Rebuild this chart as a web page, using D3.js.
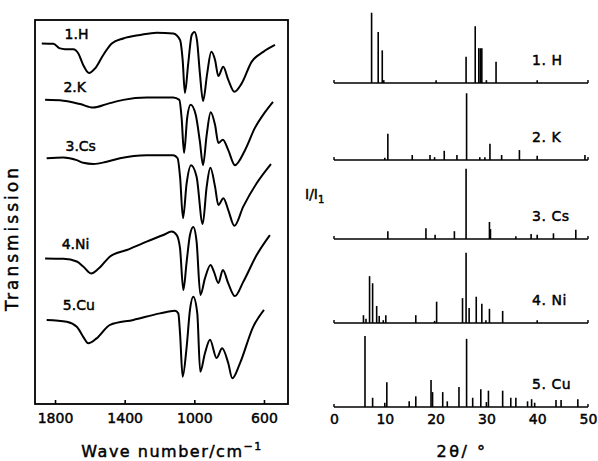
<!DOCTYPE html>
<html lang="en">
<head>
<meta charset="UTF-8">
<title>IR spectra and powder patterns</title>
<script src="https://cdn.jsdelivr.net/npm/d3@7"></script>
<style>
  body { margin: 0; background: #fff; }
  text { font-family: "DejaVu Sans", sans-serif; fill: #000; stroke: #000; stroke-width: 0.45px; }
</style>
</head>
<body>
<script>
// IR spectra, [wave number cm-1, transmission %]
var irH = [[1876,93.9],[1810,93.8],[1771,92.6],[1743,92.4],[1695,92.4],[1666,91.3],[1638,88.3],[1605,86.2],
  [1570,87.4],[1523,90.9],[1474,93.9],[1408,95.2],[1312,96.1],[1216,96.7],[1121,96.5],[1082,94.8],[1067,89.6],
  [1054,81.0],[1035,88.7],[1015,96.1],[999,96.9],[985,94.8],[968,86.1],[950,78.9],[926,86.1],[903,91.7],
  [881,89.6],[862,85.4],[834,87.8],[805,84.4],[770,81.3],[728,83.5],[671,89.1],[604,91.7],[537,93.5]];
var irK = [[1857,79.2],[1752,79.0],[1656,78.1],[1580,77.2],[1503,78.1],[1408,79.2],[1274,79.8],[1121,79.8],
  [1086,79.2],[1073,74.5],[1059,65.4],[1041,74.5],[1021,77.9],[992,75.3],[968,68.3],[950,62.2],[929,70.1],
  [906,76.0],[881,72.7],[862,68.0],[836,68.8],[805,66.1],[767,62.2],[709,66.1],[652,71.9],[594,76.0],[548,78.7]];
var irCs = [[1848,64.0],[1752,64.2],[1675,63.5],[1638,62.8],[1580,62.5],[1503,63.1],[1427,64.0],[1274,64.8],
  [1121,64.8],[1096,64.0],[1082,59.2],[1065,48.4],[1044,57.5],[1019,62.2],[987,59.2],[952,46.9],[929,56.6],
  [908,61.5],[881,56.6],[862,51.8],[833,53.6],[805,50.5],[770,46.4],[719,51.4],[642,57.5],[560,62.5]];
var irNi = [[1857,37.9],[1752,37.8],[1675,37.1],[1638,35.8],[1593,34.0],[1551,35.2],[1484,38.4],[1388,40.1],
  [1274,42.3],[1178,44.0],[1130,44.9],[1101,44.0],[1082,40.5],[1063,29.7],[1044,37.1],[1025,44.0],[1006,46.1],
  [987,42.3],[965,28.4],[939,32.7],[907,36.2],[887,34.4],[862,31.5],[836,34.9],[805,31.4],[767,28.1],
  [719,31.8],[642,38.8],[566,44.0]];
var irCu = [[1848,21.9],[1733,21.4],[1675,20.1],[1638,17.5],[1609,15.8],[1561,17.1],[1484,20.6],[1350,21.9],
  [1197,23.6],[1111,24.3],[1092,23.6],[1082,18.4],[1067,7.1],[1044,14.9],[1025,24.5],[1006,27.9],[983,23.6],
  [966,8.4],[939,13.2],[910,16.7],[872,12.0],[840,14.5],[805,10.6],[782,6.7],[738,10.6],[662,20.1],[600,24.5]];
var irNames = ["1.H", "2.K", "3.Cs", "4.Ni", "5.Cu"];
var irTicks = [1800, 1400, 1000, 600];

// powder patterns, [2theta deg, I/I1 %]
var xrdH = [[7.4,99],[8.7,72],[9.5,46],[9.8,4],[20.1,4],[26.0,37],[27.8,80],[28.5,49],[28.8,49],[29.1,49],
  [30.0,4],[31.9,30],[40.0,4]];
var xrdK = [[10.0,3],[10.6,37],[15.4,7],[18.9,7],[19.8,4],[21.7,13],[24.2,7],[26.1,94],[28.7,4],[29.7,4],
  [30.7,23],[33.0,7],[36.5,14],[40.0,6],[49.4,7]];
var xrdCs = [[10.6,11],[18.1,15],[19.9,6],[23.7,11],[26.0,99],[30.6,24],[30.8,14],[35.8,4],[38.8,7],[40.0,6],
  [43.2,8],[47.6,13]];
var xrdNi = [[5.8,11],[6.3,6],[7.0,66],[7.6,56],[8.4,24],[8.9,10],[9.7,4],[10.2,11],[16.1,11],[19.8,3],
  [20.2,30],[25.3,35],[26.0,99],[26.6,21],[28.0,37],[29.1,27],[29.9,4],[30.6,20],[33.2,17],[40.0,4]];
var xrdCu = [[6.1,100],[7.6,13],[10.0,6],[10.4,35],[14.8,8],[16.1,15],[19.1,38],[19.4,21],[21.4,21],[22.3,8],
  [24.6,28],[26.1,96],[27.3,13],[28.9,25],[30.0,7],[30.4,23],[33.2,23],[34.8,13],[35.8,13],[38.1,8],[38.9,11],
  [39.5,6],[43.7,10],[44.7,10],[48.0,11]];
var xrdNames = ["1. H", "2. K", "3. Cs", "4. Ni", "5. Cu"];
var xrdTicks = [0, 10, 20, 30, 40, 50];

var ancho = 598, alto = 461;
var svg = d3.select("body").append("svg")
  .attr("width", ancho).attr("height", alto);

// ---- left panel: IR ----
var xIR = d3.scaleLinear().domain([1915, 462]).range([35, 288]);
var yIR = d3.scaleLinear().domain([0, 100]).range([404, 20]);

svg.append("rect")
  .attr("x", 35).attr("y", 20).attr("width", 253).attr("height", 384)
  .attr("fill", "none").attr("stroke", "#000").attr("stroke-width", 1.8);

var linea = d3.line()
  .x(function (d) { return xIR(d[0]); })
  .y(function (d) { return yIR(d[1]); })
  .curve(d3.curveMonotoneX);

svg.selectAll("path.ir")
  .data([irH, irK, irCs, irNi, irCu])
  .enter().append("path")
  .attr("class", "ir")
  .attr("d", linea)
  .attr("fill", "none").attr("stroke", "#000").attr("stroke-width", 2);

// label spots in (wave number, transmission)
var irLabelAt = [[1745, 95.0], [1752, 81.3], [1740, 65.8], [1762, 40.3], [1755, 24.6]];
svg.selectAll("text.irname")
  .data(irNames)
  .enter().append("text")
  .attr("class", "irname")
  .attr("x", function (d, i) { return xIR(irLabelAt[i][0]); })
  .attr("y", function (d, i) { return yIR(irLabelAt[i][1]); })
  .attr("font-size", "14px")
  .text(function (d) { return d; });

var ejeIR = svg.append("g")
  .attr("transform", "translate(0,404)")
  .call(d3.axisBottom(xIR).tickValues(irTicks).tickFormat(d3.format("d"))
    .tickSize(-4).tickPadding(9));
ejeIR.select(".domain").remove();
ejeIR.selectAll("line").attr("stroke", "#000").attr("stroke-width", 1.6);
ejeIR.selectAll("text").attr("font-size", "14px").attr("font-family", null);

svg.append("text")
  .attr("x", 172).attr("y", 457)
  .attr("text-anchor", "middle").attr("font-size", "16px")
  .attr("letter-spacing", "1.5px")
  .text("Wave number/cm").append("tspan")
  .attr("dy", "-7").attr("font-size", "11px").text("−1");

svg.append("text")
  .attr("transform", "translate(18,238) rotate(-90)")
  .attr("text-anchor", "middle").attr("font-size", "17px")
  .attr("letter-spacing", "3px")
  .text("Transmission");

// ---- right panel: XRD ----
var x2t = d3.scaleLinear().domain([0, 50]).range([334, 588]);
var hI = d3.scaleLinear().domain([0, 100]).range([0, 71]);
var bases = [83, 160, 239, 323, 407];
var patrones = [xrdH, xrdK, xrdCs, xrdNi, xrdCu];

patrones.forEach(function (p, k) {
  var g = svg.append("g").attr("transform", "translate(0," + bases[k] + ")");
  g.append("line")
    .attr("x1", x2t(0)).attr("x2", x2t(50)).attr("y1", 0).attr("y2", 0)
    .attr("stroke", "#000").attr("stroke-width", 1.6);
  g.selectAll("line.end")
    .data([0, 50])
    .enter().append("line")
    .attr("class", "end")
    .attr("x1", function (d) { return x2t(d); }).attr("x2", function (d) { return x2t(d); })
    .attr("y1", 0).attr("y2", -3)
    .attr("stroke", "#000").attr("stroke-width", 1.4);
  g.selectAll("line.pk")
    .data(p)
    .enter().append("line")
    .attr("class", "pk")
    .attr("x1", function (d) { return x2t(d[0]); })
    .attr("x2", function (d) { return x2t(d[0]); })
    .attr("y1", 0)
    .attr("y2", function (d) { return -hI(d[1]); })
    .attr("stroke", "#000").attr("stroke-width", 1.6);
  g.append("text")
    .attr("x", x2t(39)).attr("y", -18)
    .attr("font-size", "14px").attr("letter-spacing", "0.5px")
    .text(xrdNames[k]);
});

var eje2 = svg.append("g")
  .attr("transform", "translate(0,407)")
  .call(d3.axisBottom(x2t).tickValues(xrdTicks).tickSize(0).tickPadding(7));
eje2.select(".domain").remove();
eje2.selectAll("text").attr("font-size", "14px").attr("font-family", null);

svg.append("text")
  .attr("x", 462).attr("y", 457)
  .attr("text-anchor", "middle").attr("font-size", "16px")
  .attr("letter-spacing", "2.5px")
  .text("2θ/ °");

var rel = svg.append("text")
  .attr("x", 305).attr("y", 199).attr("font-size", "14px").text("I/I");
rel.append("tspan").attr("dy", "4").attr("font-size", "10px").text("1");
</script>
</body>
</html>
